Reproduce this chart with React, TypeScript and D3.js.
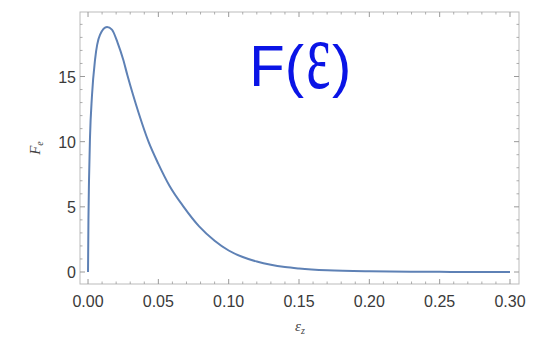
import React from "react";
import * as d3 from "d3";

const epsValues = [0, 0.0003, 0.0007, 0.0014, 0.0028, 0.005, 0.0085, 0.0135, 0.017, 0.021, 0.025, 0.028, 0.032, 0.036, 0.043, 0.05, 0.058, 0.068, 0.079, 0.09, 0.1, 0.11, 0.12, 0.13, 0.14, 0.15, 0.17, 0.2, 0.25, 0.3];
const fValues = [0, 4, 7, 10.3, 13.5, 16.3, 18.2, 18.8, 18.6, 17.6, 16.3, 15.1, 13.6, 12.2, 10.0, 8.3, 6.6, 5.0, 3.5, 2.4, 1.65, 1.15, 0.8, 0.55, 0.38, 0.27, 0.13, 0.05, 0.01, 0.0];
const xMajorTicks = [0, 0.05, 0.1, 0.15, 0.2, 0.25, 0.3];
const xTickLabels = ["0.00", "0.05", "0.10", "0.15", "0.20", "0.25", "0.30"];
const yMajorTicks = [0, 5, 10, 15];
const yTickLabels = ["0", "5", "10", "15"];

const W = 542, H = 337;
const L = 80, R = 519, T = 12, B = 284;

export default function App() {
  const x = d3.scaleLinear().domain([-0.0057, 0.3064]).range([L, R]);
  const y = d3.scaleLinear().domain([0, 15]).range([272, 76.5]);
  const data = epsValues.map((e, i) => [e, fValues[i]] as [number, number]);
  const line = d3.line<[number, number]>().x(d => x(d[0])).y(d => y(d[1])).curve(d3.curveMonotoneX);
  const xMinor = d3.range(0, 0.3001, 0.01).filter(v => !xMajorTicks.some(m => Math.abs(m - v) < 1e-6));
  const yMinor = d3.range(-0, 20, 1).filter(v => v % 5 !== 0 && y(v) > T && y(v) < B);
  const tickC = "#999";
  const lab = { fontFamily: "Liberation Sans, Arial, sans-serif", fontSize: 16, fill: "#3a3a3a" } as const;
  const blue = "#0a14e6";
  const sans = "Liberation Sans, Arial, sans-serif";
  return (
    <svg width={W} height={H} style={{ position: "absolute", left: 0, top: 0, background: "#fff" }}>
      <rect x={L} y={T} width={R - L} height={B - T} fill="none" stroke="#bbb" strokeWidth={1} />
      {xMajorTicks.map((v, i) => (
        <g key={"xm" + i}>
          <line x1={x(v)} x2={x(v)} y1={B} y2={B - 5} stroke={tickC} />
          <line x1={x(v)} x2={x(v)} y1={T} y2={T + 5} stroke={tickC} />
          <text x={x(v)} y={307} textAnchor="middle" {...lab}>{xTickLabels[i]}</text>
        </g>
      ))}
      {xMinor.map((v, i) => (
        <g key={"xn" + i}>
          <line x1={x(v)} x2={x(v)} y1={B} y2={B - 2.5} stroke={tickC} strokeWidth={0.8} />
          <line x1={x(v)} x2={x(v)} y1={T} y2={T + 2.5} stroke={tickC} strokeWidth={0.8} />
        </g>
      ))}
      {yMajorTicks.map((v, i) => (
        <g key={"ym" + i}>
          <line x1={L} x2={L + 5} y1={y(v)} y2={y(v)} stroke={tickC} />
          <line x1={R} x2={R - 5} y1={y(v)} y2={y(v)} stroke={tickC} />
          <text x={76} y={y(v) + 6} textAnchor="end" {...lab}>{yTickLabels[i]}</text>
        </g>
      ))}
      {yMinor.map((v, i) => (
        <g key={"yn" + i}>
          <line x1={L} x2={L + 2.5} y1={y(v)} y2={y(v)} stroke={tickC} strokeWidth={0.8} />
          <line x1={R} x2={R - 2.5} y1={y(v)} y2={y(v)} stroke={tickC} strokeWidth={0.8} />
        </g>
      ))}
      <path d={line(data) ?? ""} fill="none" stroke="#5E81B5" strokeWidth={2} />
      <text x={300} y={331} textAnchor="middle" fontFamily="Liberation Serif, serif" fontStyle="italic" fontSize={15} fill="#444">
        ε<tspan fontSize={10} dy={3}>z</tspan>
      </text>
      <text transform="translate(40,148) rotate(-90)" textAnchor="middle" fontFamily="Liberation Serif, serif" fontStyle="italic" fontSize={15} fill="#444">
        F<tspan fontSize={10} dy={3}>e</tspan>
      </text>
      <text x={304} y={86} textAnchor="end" fill={blue} fontSize={58} fontFamily={sans}>F(</text>
      <text transform="translate(318.5,88) scale(1,1.68)" textAnchor="middle" fill={blue} fontSize={58} fontFamily="Liberation Serif, serif">ε</text>
      <text x={332} y={86} fill={blue} fontSize={58} fontFamily={sans}>)</text>
    </svg>
  );
}
